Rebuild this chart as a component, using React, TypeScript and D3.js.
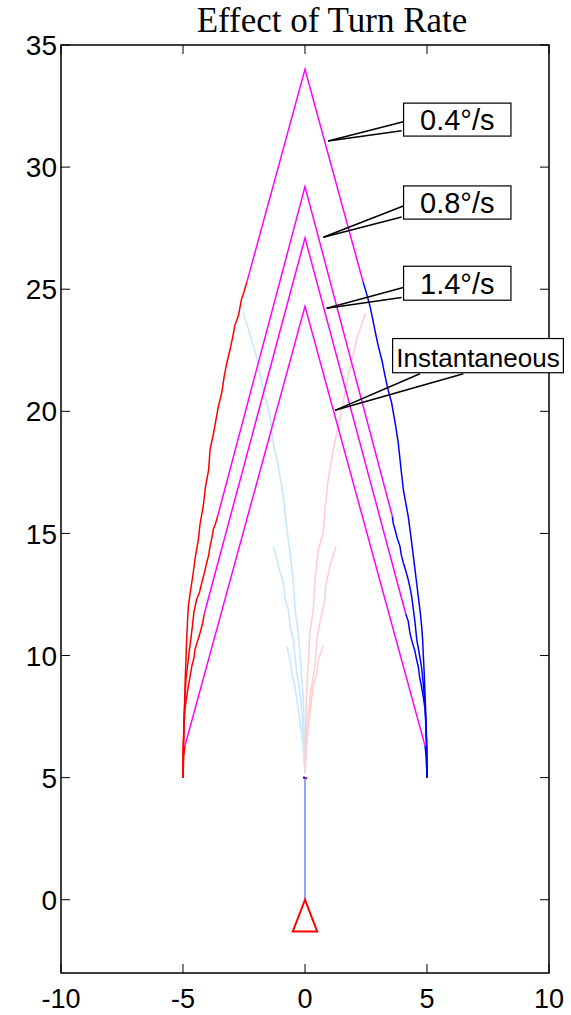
import React from "react";
import * as d3 from "d3";

type Pt = [number, number];

// turn rates and the chevron (magenta) geometry
const turnRates = ["0.4°/s", "0.8°/s", "1.4°/s", "Instantaneous"];
const apexY = [34.0, 29.2, 27.1, 24.3];
const legEndX = [2.38, 3.58, 4.13, 4.92];
const legEndY = [25.3, 15.7, 11.7, 6.3];

// red tracks (left side), bottom -> top
const red04: Pt[] = [[-5, 5], [-4.99, 5.8], [-4.97, 6.6], [-4.96, 7.4], [-4.93, 8.2], [-4.91, 9.0], [-4.88, 9.8], [-4.85, 10.66], [-4.82, 11.3], [-4.78, 12.02], [-4.7, 12.6], [-4.58, 13.39], [-4.5, 14.0], [-4.37, 14.75], [-4.3, 15.4], [-4.17, 16.12], [-4.08, 16.9], [-3.95, 17.6], [-3.89, 18.44], [-3.75, 19.1], [-3.62, 19.81], [-3.55, 20.2], [-3.41, 20.77], [-3.3, 21.5], [-3.2, 22.0], [-3.07, 22.54], [-2.95, 23.1], [-2.88, 23.5], [-2.73, 23.91], [-2.6, 24.6], [-2.5, 24.9], [-2.38, 25.3]];
const red08: Pt[] = [[-5, 5], [-4.99, 6.2], [-4.96, 7.3], [-4.92, 8.2], [-4.88, 9.0], [-4.8, 9.7], [-4.74, 10.2], [-4.68, 10.66], [-4.6, 11.34], [-4.55, 11.8], [-4.44, 12.3], [-4.32, 12.6], [-4.23, 12.98], [-4.12, 13.4], [-4.03, 13.8], [-3.95, 14.1], [-3.89, 14.48], [-3.8, 14.9], [-3.76, 15.16], [-3.67, 15.4], [-3.58, 15.7]];
const red14: Pt[] = [[-5, 5], [-4.99, 6.15], [-4.96, 7.0], [-4.92, 7.79], [-4.85, 8.3], [-4.78, 8.74], [-4.7, 9.2], [-4.64, 9.56], [-4.55, 9.9], [-4.51, 10.25], [-4.4, 10.6], [-4.3, 10.93], [-4.2, 11.3], [-4.13, 11.7]];
const redInst: Pt[] = [[-5, 5], [-4.98, 5.5], [-4.97, 5.9], [-4.94, 6.1], [-4.92, 6.3]];

// blue tracks (right side)
const blue04: Pt[] = [[5, 5], [4.99, 6.0], [4.97, 6.8], [4.95, 7.6], [4.92, 8.4], [4.88, 9.4], [4.84, 10.2], [4.82, 10.66], [4.78, 11.2], [4.72, 11.8], [4.64, 12.43], [4.56, 13.1], [4.44, 14.07], [4.35, 14.8], [4.23, 15.7], [4.12, 16.3], [4.03, 16.8], [3.95, 17.5], [3.82, 18.72], [3.7, 19.5], [3.55, 20.35], [3.4, 20.9], [3.28, 21.45], [3.15, 22.1], [3.0, 22.68], [2.85, 23.4], [2.75, 23.9], [2.66, 24.32], [2.5, 24.9], [2.38, 25.3]];
const blue08: Pt[] = [[5, 5], [4.98, 6.5], [4.95, 7.4], [4.9, 8.2], [4.84, 8.9], [4.78, 9.5], [4.68, 10.1], [4.58, 10.66], [4.51, 11.34], [4.44, 11.9], [4.37, 12.43], [4.3, 12.8], [4.23, 13.11], [4.12, 13.5], [4.03, 13.8], [3.95, 14.1], [3.89, 14.48], [3.78, 14.8], [3.69, 15.16], [3.62, 15.4], [3.58, 15.7]];
const blue14: Pt[] = [[5, 5], [4.99, 6.2], [4.96, 7.0], [4.92, 7.8], [4.85, 8.3], [4.78, 8.7], [4.7, 9.1], [4.65, 9.5], [4.56, 9.9], [4.5, 10.2], [4.38, 10.6], [4.3, 10.93], [4.23, 11.41], [4.13, 11.7]];
const blueInst: Pt[] = [[5, 5], [4.98, 5.5], [4.96, 5.9], [4.94, 6.1], [4.92, 6.3]];

// faint tracks near the centre
const faintBlue04: Pt[] = [[0, 5.2], [-0.03, 6.8], [-0.07, 8.2], [-0.14, 9.15], [-0.2, 10.0], [-0.27, 10.87], [-0.41, 11.95], [-0.48, 13.06], [-0.61, 14.15], [-0.75, 15.25], [-0.89, 16.5], [-1.09, 17.76], [-1.3, 18.7], [-1.43, 19.8], [-1.71, 20.9], [-1.98, 22.2], [-2.25, 23.15], [-2.53, 24.04]];
const faintBlue08: Pt[] = [[0, 5.2], [-0.03, 6.0], [-0.1, 7.3], [-0.2, 8.47], [-0.34, 9.29], [-0.41, 9.97], [-0.48, 10.66], [-0.61, 11.2], [-0.68, 11.89], [-0.82, 12.3], [-0.89, 12.98], [-1.09, 13.66], [-1.29, 14.48]];
const faintBlue14: Pt[] = [[0, 5.2], [-0.08, 6.3], [-0.2, 7.3], [-0.34, 8.2], [-0.41, 8.74], [-0.55, 9.29], [-0.61, 9.84], [-0.75, 10.38]];
const faintPink04: Pt[] = [[0, 5.2], [0.02, 6.8], [0.05, 8.2], [0.14, 9.84], [0.2, 10.93], [0.34, 11.89], [0.41, 13.11], [0.55, 14.34], [0.75, 15.03], [0.82, 16.0], [0.95, 17.2], [1.16, 18.44], [1.43, 19.67], [1.78, 21.5], [2.13, 23.0], [2.49, 24.04]];
const faintPink08: Pt[] = [[0, 5.2], [0.04, 6.2], [0.12, 7.5], [0.27, 8.74], [0.41, 9.56], [0.48, 10.66], [0.61, 11.34], [0.82, 12.3], [0.85, 12.84], [1.02, 13.66], [1.27, 14.48]];
const faintPink14: Pt[] = [[0, 5.2], [0.06, 6.3], [0.16, 7.3], [0.27, 8.2], [0.34, 8.74], [0.48, 9.29], [0.55, 9.84], [0.75, 10.38]];

const stem: Pt[] = [[0, 0], [0, 5]];
const marker: Pt[] = [[0, 0], [-0.5, -1.3], [0.5, -1.3]];

const xTicks = [-10, -5, 0, 5, 10];
const yTicks = [0, 5, 10, 15, 20, 25, 30, 35];

// callout layout (data units): box corners, two wedge roots, tip
const callouts = [
  { box: [4.04, 8.44, 32.62, 31.27], roots: [[4.03, 31.86], [3.96, 31.49]], tip: [0.95, 31.07] },
  { box: [4.04, 8.44, 29.23, 27.87], roots: [[4.03, 28.41], [3.96, 27.96]], tip: [0.75, 27.13] },
  { box: [4.04, 8.44, 25.94, 24.55], roots: [[4.03, 25.07], [3.96, 24.66]], tip: [0.89, 24.22] },
  { box: [3.59, 10.59, 22.98, 21.58], roots: [[4.71, 21.54], [6.49, 21.54]], tip: [1.23, 20.04] },
];

const W = 571;
const H = 1015;
const sans = "'Liberation Sans', Arial, Helvetica, sans-serif";

export default function App() {
  const x = d3.scaleLinear().domain([-10, 10]).range([61, 549]);
  const y = d3.scaleLinear().domain([-3, 35]).range([973, 45]);
  const line = d3.line<Pt>().x((d) => x(d[0])).y((d) => y(d[1]));

  const chevrons: Pt[][] = apexY.map((a, i) => [
    [-legEndX[i], legEndY[i]],
    [0, a],
    [legEndX[i], legEndY[i]],
  ]);
  const faintBlue = [faintBlue04, faintBlue08, faintBlue14];
  const faintPink = [faintPink04, faintPink08, faintPink14];
  const reds = [red04, red08, red14, redInst];
  const blues = [blue04, blue08, blue14, blueInst];

  const [x0, x1] = x.range();
  const [y0, y1] = y.range();
  const tick = 9;

  return (
    <svg width={W} height={H} style={{ position: "absolute", left: 0, top: 0, background: "#fff" }}>
      <rect width={W} height={H} fill="#fff" />
      {faintBlue.map((d, i) => (
        <path key={"fb" + i} d={line(d) || ""} fill="none" stroke="#c8e8ff" strokeWidth={1.6} />
      ))}
      {faintPink.map((d, i) => (
        <path key={"fp" + i} d={line(d) || ""} fill="none" stroke="#ffd0d0" strokeWidth={1.6} />
      ))}
      {reds.map((d, i) => (
        <path key={"r" + i} d={line(d) || ""} fill="none" stroke="#ff0000" strokeWidth={1.5} />
      ))}
      {blues.map((d, i) => (
        <path key={"b" + i} d={line(d) || ""} fill="none" stroke="#0000ff" strokeWidth={1.5} />
      ))}
      {chevrons.map((d, i) => (
        <path key={"c" + i} d={line(d) || ""} fill="none" stroke="#ff00ff" strokeWidth={1.5} />
      ))}
      <path d={line(stem) || ""} fill="none" stroke="#8fa8f0" strokeWidth={2} />
      <rect x={x(0) - 2} y={y(5) - 1} width={2} height={2} fill="#0000ff" />
      <rect x={x(0)} y={y(5) - 0.5} width={2} height={2} fill="#ff0000" />
      <path d={(line(marker) || "") + "Z"} fill="none" stroke="#ff0000" strokeWidth={2} />

      {/* axes box */}
      <rect x={x0} y={y1} width={x1 - x0} height={y0 - y1} fill="none" stroke="#000" strokeWidth={1.5} />
      {xTicks.map((t) => (
        <g key={"xt" + t}>
          <line x1={x(t)} x2={x(t)} y1={y0} y2={y0 - tick} stroke="#000" strokeWidth={1} />
          <line x1={x(t)} x2={x(t)} y1={y1} y2={y1 + tick} stroke="#000" strokeWidth={1} />
          <text x={x(t)} y={y0 + 35} textAnchor="middle" fontFamily={sans} fontSize={27}>
            {t}
          </text>
        </g>
      ))}
      {yTicks.map((t) => (
        <g key={"yt" + t}>
          <line x1={x0} x2={x0 + tick} y1={y(t)} y2={y(t)} stroke="#000" strokeWidth={1} />
          <line x1={x1} x2={x1 - tick} y1={y(t)} y2={y(t)} stroke="#000" strokeWidth={1} />
          <text x={x0 - 4} y={y(t)} dy="0.36em" textAnchor="end" fontFamily={sans} fontSize={28}>
            {t}
          </text>
        </g>
      ))}

      <text x={332} y={32} textAnchor="middle" fontFamily="'Liberation Serif', 'Times New Roman', serif" fontSize={35}>
        Effect of Turn Rate
      </text>

      {callouts.map((c, i) => {
        const [bx0, bx1, byT, byB] = c.box;
        const tx = x(c.tip[0]);
        const ty = y(c.tip[1]);
        return (
          <g key={"co" + i}>
            {c.roots.map((r, j) => (
              <line key={j} x1={x(r[0])} y1={y(r[1])} x2={tx} y2={ty} stroke="#000" strokeWidth={1.5} />
            ))}
            <rect x={x(bx0)} y={y(byT)} width={x(bx1) - x(bx0)} height={y(byB) - y(byT)} fill="#fff" stroke="#000" strokeWidth={1.2} />
            <text x={(x(bx0) + x(bx1)) / 2} y={y(byB) - 6} textAnchor="middle" fontFamily={sans} fontSize={i === 3 ? 26 : 29}>
              {turnRates[i]}
            </text>
          </g>
        );
      })}
    </svg>
  );
}
